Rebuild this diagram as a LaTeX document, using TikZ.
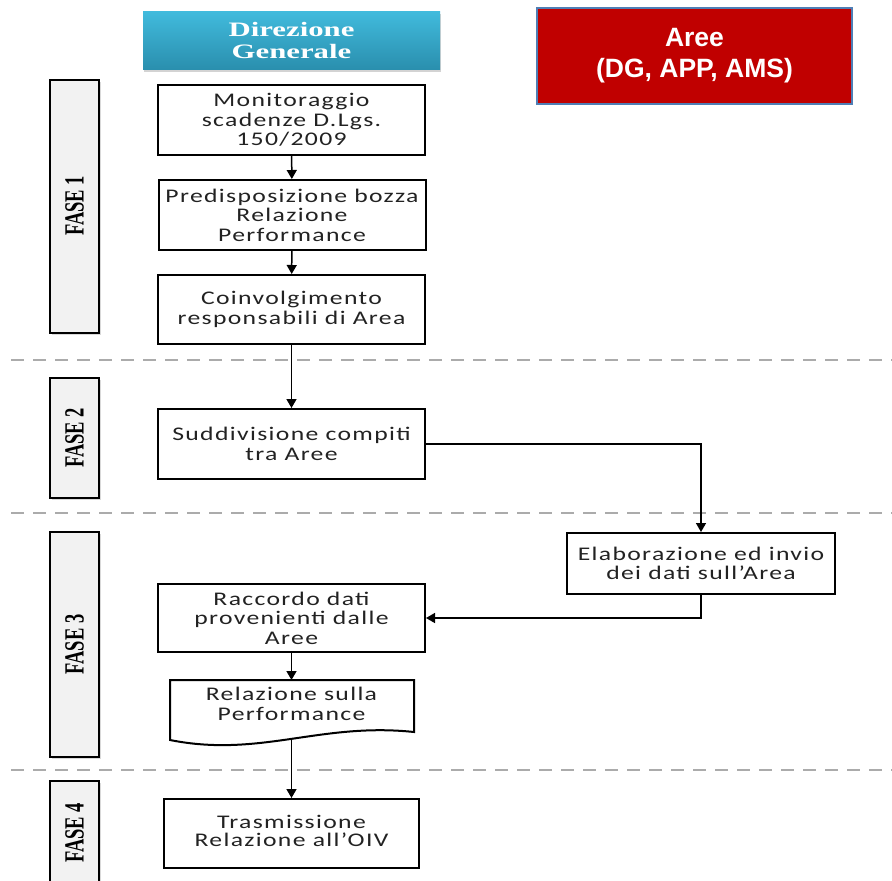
\documentclass[tikz,border=0pt]{standalone}
\usepackage{fontspec}
\usetikzlibrary{arrows.meta,shadows}
\newfontfamily\boxfont[FakeStretch=1.33,LetterSpace=7]{Carlito}
\newfontfamily\hdrfont[FakeStretch=1.5]{Liberation Serif}
\newfontfamily\areefont{Liberation Sans}
\newfontfamily\fasefont{Liberation Serif}
\definecolor{dgtop}{HTML}{41BBDD}
\definecolor{dgbot}{HTML}{2A8FAE}
\definecolor{areered}{HTML}{C00000}
\definecolor{areeedge}{HTML}{4F7EB5}
\definecolor{fasefill}{HTML}{F2F2F2}
\definecolor{dashgray}{HTML}{ABABAB}
\definecolor{boxtext}{HTML}{222222}
\tikzset{
  flowbox/.style={draw=black, line width=2pt, fill=white, align=center, inner sep=0pt,
    minimum width=267pt, minimum height=70pt, text=boxtext,
    font=\boxfont\fontsize{19.3}{19.5}\selectfont},
  arr/.style={-{Triangle[length=9pt,width=10pt]}, line width=1.5pt},
  fasebox/.style={draw=black, line width=1.4pt, fill=fasefill,
    drop shadow={shadow xshift=2pt, shadow yshift=-2pt, opacity=0.3}},
  faselabel/.style={rotate=90, inner sep=0pt, font=\fasefont\bfseries\fontsize{18.5}{18.5}\selectfont},
  phase/.style={draw=dashgray, line width=1.8pt, dash pattern=on 13pt off 9pt},
  doctext/.style={align=center, inner sep=0pt, text=boxtext, font=\boxfont\fontsize{19.3}{19.5}\selectfont}
}
\begin{document}
\begin{tikzpicture}[x=1pt,y=-1pt]
\useasboundingbox (0,0) rectangle (892,881);

% headers
\node[shade, top color=dgtop, bottom color=dgbot, minimum width=297pt, minimum height=58pt,
  drop shadow={shadow xshift=1pt, shadow yshift=-3pt, opacity=0.35}, inner sep=0pt,
  align=center, text=white, font=\hdrfont\bfseries\fontsize{20.5}{22}\selectfont]
  (dg) at (291.5,40) {Direzione\\Generale};
\node[fill=areered, draw=areeedge, line width=2.5pt, minimum width=315pt, minimum height=96pt,
  inner sep=0pt, align=center, text=white, font=\areefont\bfseries\fontsize{26.5}{31}\selectfont]
  (aree) at (694.5,56) {\raisebox{6pt}{\begin{tabular}{@{}c@{}}Aree\\[0pt](DG, APP, AMS)\end{tabular}}};

% phase separators
\coordinate (s1a) at (11,360); \coordinate (s1b) at (892,360);
\coordinate (s2a) at (11,513); \coordinate (s2b) at (892,513);
\coordinate (s3a) at (11,770); \coordinate (s3b) at (892,770);
\draw[phase] (s1a) -- (s1b);
\draw[phase] (s2a) -- (s2b);
\draw[phase] (s3a) -- (s3b);

% phase labels
\draw[fasebox] (50,80) rectangle (99,333);
\node[faselabel] (f1) at (74.5,206) {\scalebox{1}[1.5]{FASE 1}};
\draw[fasebox] (50,378) rectangle (99,498);
\node[faselabel] (f2) at (74.5,438) {\scalebox{1}[1.5]{FASE 2}};
\draw[fasebox] (50,532) rectangle (99,757);
\node[faselabel] (f3) at (74.5,644.5) {\scalebox{1}[1.5]{FASE 3}};
\draw[fasebox] (50,781) rectangle (99,886);
\node[faselabel] (f4) at (74.5,833) {\scalebox{1}[1.5]{FASE 4}};

% flow boxes
\node[flowbox] (m1) at (291.5,120) {Monitoraggio\\scadenze D.Lgs.\\150/2009};
\path (m1.north west) ++(0,0) coordinate (m1nw);
\node[flowbox] (m2) at (292,215) {Predisposizione bozza\\Relazione\\Performance};
\node[flowbox, minimum height=69pt] (m3) at (291.5,309.5) {Coinvolgimento\\responsabili di Area};
\node[flowbox] (m4) at (291.5,444) {Suddivisione compiti\\tra Aree};
\node[flowbox, minimum width=268pt, minimum height=61pt] (m5) at (701,563.5) {Elaborazione ed invio\\dei dati sull’Area};
\node[flowbox, minimum height=68pt] (m6) at (291.5,618) {Raccordo dati\\provenienti dalle\\Aree};
\node[flowbox, minimum width=255pt, minimum height=69pt] (m7) at (291.5,833.5) {\raisebox{3pt}{\begin{tabular}{@{}c@{}}Trasmissione\\[-2pt]Relazione all’OIV\end{tabular}}};

% document shape
\draw[line width=2pt, fill=white] (170,680) -- (414,680) -- (414,732)
  .. controls (320,722) and (260,758) .. (170,740) -- cycle;
\node[doctext] (doc) at (291.5,704) {Relazione sulla\\Performance};
\coordinate (doctop) at (291.5,680);
\coordinate (docbot) at (291.5,739);

% connectors
\draw[arr] (m1) -- (m2);
\draw[arr] (m2) -- (m3);
\draw[arr] (m3) -- (m4);
\draw[arr] (m4.east) -| (m5.north);
\draw[arr] (m5.south) |- (m6.east);
\draw[arr] (m6) -- (doctop);
\draw[arr] (docbot) -- (m7);
\end{tikzpicture}
\end{document}
